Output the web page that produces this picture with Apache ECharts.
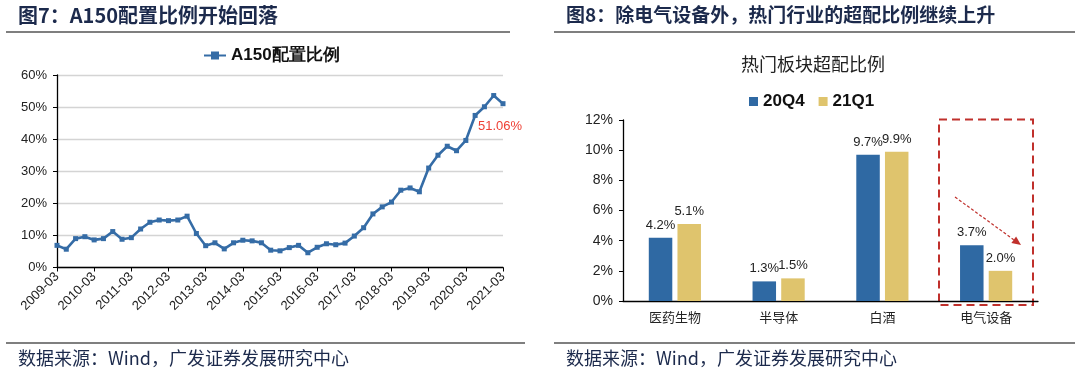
<!DOCTYPE html>
<html><head><meta charset="utf-8">
<script src="https://cdn.jsdelivr.net/npm/echarts@6/dist/echarts.min.js"></script>
<style>html,body{margin:0;padding:0;background:#fff}#c{width:1080px;height:380px}</style>
</head><body><div id="c"></div>
<script>
// ---- data ----
const quarters = ['2009-03','2009-06','2009-09','2009-12','2010-03','2010-06','2010-09','2010-12',
'2011-03','2011-06','2011-09','2011-12','2012-03','2012-06','2012-09','2012-12',
'2013-03','2013-06','2013-09','2013-12','2014-03','2014-06','2014-09','2014-12',
'2015-03','2015-06','2015-09','2015-12','2016-03','2016-06','2016-09','2016-12',
'2017-03','2017-06','2017-09','2017-12','2018-03','2018-06','2018-09','2018-12',
'2019-03','2019-06','2019-09','2019-12','2020-03','2020-06','2020-09','2020-12','2021-03'];
const a150 = [6.9,5.7,9.0,9.6,8.6,9.0,11.2,8.8,9.3,12.0,14.1,14.8,14.6,14.8,16.0,10.6,
6.8,7.7,5.8,7.7,8.5,8.3,7.7,5.4,5.2,6.2,6.9,4.6,6.3,7.4,7.1,7.6,
9.8,12.4,16.7,18.9,20.4,24.1,24.8,23.6,31.0,35.0,37.8,36.4,39.6,47.4,50.1,53.6,51.06];
const lineTicks = [0,10,20,30,40,50,60];

const sectors = ['医药生物','半导体','白酒','电气设备'];
const q20Q4 = [4.2,1.3,9.7,3.7];
const q21Q1 = [5.1,1.5,9.9,2.0];
const barTicks = [0,2,4,6,8,10,12];

const headerLeft = '图7：A150配置比例开始回落';
const headerRight = '图8：除电气设备外，热门行业的超配比例继续上升';
const sourceText = '数据来源：Wind，广发证券发展研究中心';
const barTitle = '热门板块超配比例';

// ---- styles ----
const NAVY = '#1c2a4c';
const BLUE_LINE = '#356ca6';
const BLUE = '#2f69a3';
const GOLD = '#dfc46d';
const RED = '#c0302c';
const SANS = 'Liberation Sans, Arial, sans-serif';
const CJK = 'Noto Sans CJK SC, sans-serif';

const chart = echarts.init(document.getElementById('c'), null, {renderer:'canvas'});

const lastIdx = a150.length - 1;
const lineData = a150.map((v,i)=> i===lastIdx ? {
  value: v,
  label: {show:true, position:'bottom', distance:14, color:'#ee4035', fontSize:13, fontFamily:SANS,
    offset:[-3,0], formatter: p => p.value.toFixed(2)+'%'}
} : v);

const barLabel = {show:true, position:'top', distance:6, fontFamily:SANS, fontSize:13, color:'#222',
  formatter:p=>p.value.toFixed(1)+'%'};

const option = {
  animation:false,
  backgroundColor:'#fff',
  title:[{
    text: barTitle, left: 808, top: 50, textAlign:'center',
    textStyle:{fontFamily:CJK, fontSize:18, fontWeight:'normal', color:'#222'}
  }],
  legend:[{
    data:['A150配置比例'], left:198, top:42, itemWidth:22, itemHeight:10,
    textStyle:{fontFamily:SANS, fontSize:17, fontWeight:'bold', color:'#111'}
  },{
    data:['20Q4','21Q1'], left:744, top:88, icon:'rect', itemWidth:9, itemHeight:9, itemGap:14,
    textStyle:{fontFamily:SANS, fontSize:17, fontWeight:'bold', color:'#111'}
  }],
  grid:[
    {left:57, top:75, width:446, height:192.5, containLabel:false},
    {left:623, top:120, width:415, height:181, containLabel:false}
  ],
  xAxis:[{
    gridIndex:0, type:'category', data:quarters, boundaryGap:false,
    axisLine:{lineStyle:{color:'#000', width:1.3}},
    axisTick:{interval:3, length:4, lineStyle:{color:'#000'}},
    axisLabel:{interval:3, rotate:45, fontFamily:SANS, fontSize:13, color:'#222', margin:7},
    splitLine:{show:false}
  },{
    gridIndex:1, type:'category', data:sectors,
    axisLine:{lineStyle:{color:'#000', width:1.3}},
    axisTick:{length:4, lineStyle:{color:'#000'}},
    axisLabel:{fontFamily:CJK, fontSize:13, color:'#222', margin:10}
  }],
  yAxis:[{
    gridIndex:0, type:'value', min:lineTicks[0], max:lineTicks[lineTicks.length-1], interval:10,
    axisLine:{show:true, lineStyle:{color:'#000', width:1.3}},
    axisTick:{show:true, length:4, lineStyle:{color:'#000'}},
    axisLabel:{formatter:'{value}%', fontFamily:SANS, fontSize:13, color:'#222', margin:10},
    splitLine:{show:true, lineStyle:{color:'#d4d4d4', width:1.3}}
  },{
    gridIndex:1, type:'value', min:barTicks[0], max:barTicks[barTicks.length-1], interval:2,
    axisLine:{show:true, lineStyle:{color:'#000', width:1.3}},
    axisTick:{show:true, length:4, lineStyle:{color:'#000'}},
    axisLabel:{formatter:'{value}%', fontFamily:SANS, fontSize:14, color:'#222', margin:10},
    splitLine:{show:false}
  }],
  series:[{
    name:'A150配置比例', type:'line', xAxisIndex:0, yAxisIndex:0, data:lineData,
    symbol:'rect', symbolSize:5, showAllSymbol:true,
    lineStyle:{color:BLUE_LINE, width:2.6}, itemStyle:{color:BLUE_LINE}
  },{
    name:'20Q4', type:'bar', xAxisIndex:1, yAxisIndex:1, data:q20Q4,
    barWidth:23.5, barGap:'22%', itemStyle:{color:BLUE}, label:barLabel
  },{
    name:'21Q1', type:'bar', xAxisIndex:1, yAxisIndex:1, data:q21Q1,
    barWidth:23.5, barGap:'22%', itemStyle:{color:GOLD}, label:barLabel
  }],
  graphic:[
    {type:'text', left:18, top:5, style:{text:headerLeft, font:'bold 20px '+CJK, fill:NAVY}},
    {type:'text', left:566, top:5, style:{text:headerRight, font:'bold 19px '+CJK, fill:NAVY}},
    {type:'line', shape:{x1:6,y1:32,x2:510,y2:32}, style:{stroke:'#555', lineWidth:1.3}},
    {type:'line', shape:{x1:554,y1:32,x2:1075,y2:32}, style:{stroke:'#555', lineWidth:1.3}},
    {type:'line', shape:{x1:6,y1:343,x2:525,y2:343}, style:{stroke:'#555', lineWidth:1.3}},
    {type:'line', shape:{x1:554,y1:343,x2:1075,y2:343}, style:{stroke:'#555', lineWidth:1.3}},
    {type:'text', left:18, top:349, style:{text:sourceText, font:'18px '+CJK, fill:NAVY}},
    {type:'text', left:566, top:349, style:{text:sourceText, font:'18px '+CJK, fill:NAVY}},
    {type:'rect', shape:{x:939, y:119.5, width:94, height:185.5},
      style:{fill:'none', stroke:RED, lineWidth:2, lineDash:[8,5]}},
    {type:'line', shape:{x1:955,y1:197,x2:1013.7,y2:239.7},
      style:{stroke:RED, lineWidth:1.2, lineDash:[3,2]}},
    {type:'polygon', shape:{points:[[1021,245],[1016.1,236.5],[1011.4,242.9]]},
      style:{fill:RED}}
  ]
};
chart.setOption(option);
</script></body></html>
